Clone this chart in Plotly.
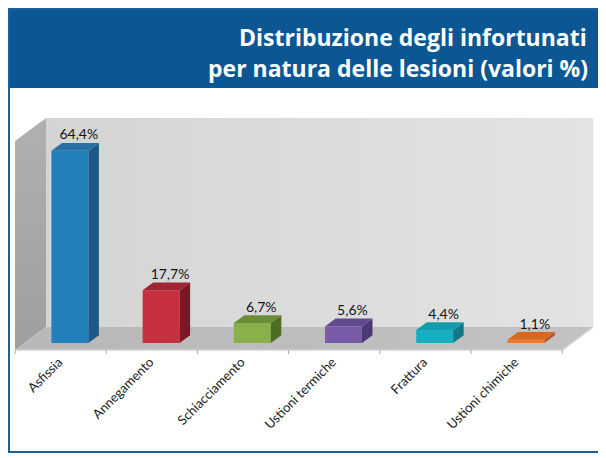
import plotly.graph_objects as go

# data
categories = ["Asfissia", "Annegamento", "Schiacciamento",
              "Ustioni termiche", "Frattura", "Ustioni chimiche"]
values = [64.4, 17.7, 6.7, 5.6, 4.4, 1.1]

front_colors = ["#2180BA", "#C6303F", "#8BAF49", "#7A5BA7", "#17AEBF", "#EF7A2F"]
side_colors = ["#1B5A87", "#7B1826", "#4F6C23", "#4B3A71", "#0F7A86", "#B4561E"]
top_colors = ["#2670A5", "#A02333", "#6B8D35", "#604A8D", "#149CAB", "#DA671F"]

# the page has an 8px body margin, so the figure is drawn 8px smaller
# and every position below is given in window pixels minus that offset
OFF = 8
W, H = 606 - OFF, 458 - OFF


def px_x(X):
    return (X - OFF) / W


def px_y(Y):
    return 1 - (Y - OFF) / H


# geometry of the fake 3d box (pixels -> data units)
cat_px = 91.2        # width of one category on the front plane
y_px = 2.986         # pixels per percent point
left_px = 15         # front-left corner of the floor
floor_px = 350       # front edge of the floor
DX = 31 / cat_px     # depth shift, x
DY = 23 / y_px       # depth shift, y
y_max = 70
bar_w = 0.405
z0, z1 = 0.30, 0.64  # bar depth inside the box

plot_l, plot_r, plot_t, plot_b = 10, 600, 100, 355
x_range = [(plot_l - left_px) / cat_px - 0.5, (plot_r - left_px) / cat_px - 0.5]
y_range = [-(plot_b - floor_px) / y_px, (floor_px - plot_t) / y_px]
n = len(categories)

fig = go.Figure()

# back wall
fig.add_trace(go.Scatter(
    x=[-0.5 + DX, n - 0.5 + DX, n - 0.5 + DX, -0.5 + DX, -0.5 + DX],
    y=[DY, DY, y_max + DY, y_max + DY, DY],
    mode="lines", fill="toself", line=dict(width=0),
    fillgradient=dict(type="horizontal", colorscale=[[0, "#D4D4D4"], [1, "#E3E3E3"]]),
    hoverinfo="skip"))
# left wall
fig.add_trace(go.Scatter(
    x=[-0.5, -0.5 + DX, -0.5 + DX, -0.5, -0.5],
    y=[0, DY, y_max + DY, y_max, 0],
    mode="lines", fill="toself", line=dict(width=0),
    fillgradient=dict(type="vertical", colorscale=[[0, "#9E9E9E"], [1, "#B0B0B0"]]),
    hoverinfo="skip"))
# floor
fig.add_trace(go.Scatter(
    x=[-0.5, n - 0.5, n - 0.5 + DX, -0.5 + DX, -0.5],
    y=[0, 0, DY, DY, 0],
    mode="lines", fill="toself", line=dict(width=0),
    fillgradient=dict(type="horizontal", colorscale=[[0, "#B8B8B8"], [1, "#C2C2C2"]]),
    hoverinfo="skip"))
# floor edge
fig.add_trace(go.Scatter(
    x=[-0.5, n - 0.5, n - 0.5 + DX],
    y=[0, 0, DY],
    mode="lines", line=dict(color="#D2D2D2", width=1.5), hoverinfo="skip"))
# category tick marks
tx, ty = [], []
for b in range(n + 1):
    tx += [b - 0.5, b - 0.5, None]
    ty += [0, -4 / y_px, None]
fig.add_trace(go.Scatter(x=tx, y=ty, mode="lines",
                         line=dict(color="#A6A6A6", width=1), hoverinfo="skip"))

# bars (front faces) on overlay axes so they sit above the walls
fig.add_trace(go.Bar(
    x=[i + z0 * DX for i in range(n)], y=values, base=[z0 * DY] * n,
    width=bar_w, marker=dict(color=front_colors, line=dict(width=0)),
    xaxis="x2", yaxis="y2", hoverinfo="skip"))

for i, v in enumerate(values):
    xa, xb = i - bar_w / 2, i + bar_w / 2
    # right side face
    fig.add_trace(go.Scatter(
        x=[xb + z0 * DX, xb + z1 * DX, xb + z1 * DX, xb + z0 * DX, xb + z0 * DX],
        y=[z0 * DY, z1 * DY, v + z1 * DY, v + z0 * DY, z0 * DY],
        mode="lines", fill="toself", fillcolor=side_colors[i],
        line=dict(width=0), xaxis="x2", yaxis="y2", hoverinfo="skip"))
    # top face
    fig.add_trace(go.Scatter(
        x=[xa + z0 * DX, xb + z0 * DX, xb + z1 * DX, xa + z1 * DX, xa + z0 * DX],
        y=[v + z0 * DY, v + z0 * DY, v + z1 * DY, v + z1 * DY, v + z0 * DY],
        mode="lines", fill="toself", fillcolor=top_colors[i],
        line=dict(width=0), xaxis="x2", yaxis="y2", hoverinfo="skip"))

# value labels
fig.add_trace(go.Scatter(
    x=[i + (z0 + z1) / 2 * DX + 0.04 for i in range(n)],
    y=[v + z1 * DY for v in values],
    mode="text", text=[f"{v:.1f}".replace(".", ",") + "%" for v in values],
    textposition="top center", cliponaxis=False,
    textfont=dict(family="Lato", size=14, color="#141414"),
    xaxis="x2", yaxis="y2", hoverinfo="skip"))

fig.update_layout(
    width=W, height=H,
    margin=dict(l=0, r=0, t=0, b=0),
    paper_bgcolor="white", plot_bgcolor="rgba(0,0,0,0)",
    showlegend=False, hovermode=False,
    xaxis=dict(domain=[px_x(plot_l), px_x(plot_r)], range=x_range,
               showgrid=False, zeroline=False, showline=False, ticks="",
               tickvals=[i - 0.02 for i in range(n)], ticktext=categories,
               tickangle=-45, ticklabelstandoff=-4,
               tickfont=dict(family="Lato", size=13, color="#202020")),
    yaxis=dict(domain=[px_y(plot_b), px_y(plot_t)], range=y_range, visible=False),
    xaxis2=dict(overlaying="x", range=x_range, visible=False),
    yaxis2=dict(overlaying="y", range=y_range, visible=False),
    shapes=[
        dict(type="rect", xref="paper", yref="paper",
             x0=px_x(9), x1=px_x(602), y0=px_y(88), y1=1,
             fillcolor="#0B5794", line=dict(width=0)),
        dict(type="rect", xref="paper", yref="paper",
             x0=px_x(9), x1=px_x(602), y0=px_y(452), y1=px_y(9),
             line=dict(color="#1B5E9B", width=2)),
    ],
    annotations=[
        dict(xref="paper", yref="paper", x=px_x(589), y=px_y(37),
             xanchor="right", yanchor="middle", showarrow=False,
             text="Distribuzione degli infortunati",
             font=dict(family="Open Sans", size=23, color="white", weight="bold")),
        dict(xref="paper", yref="paper", x=px_x(590), y=px_y(68),
             xanchor="right", yanchor="middle", showarrow=False,
             text="per natura delle lesioni (valori %)",
             font=dict(family="Open Sans", size=23, color="white", weight="bold")),
    ],
)

fig.write_html("out.html")
